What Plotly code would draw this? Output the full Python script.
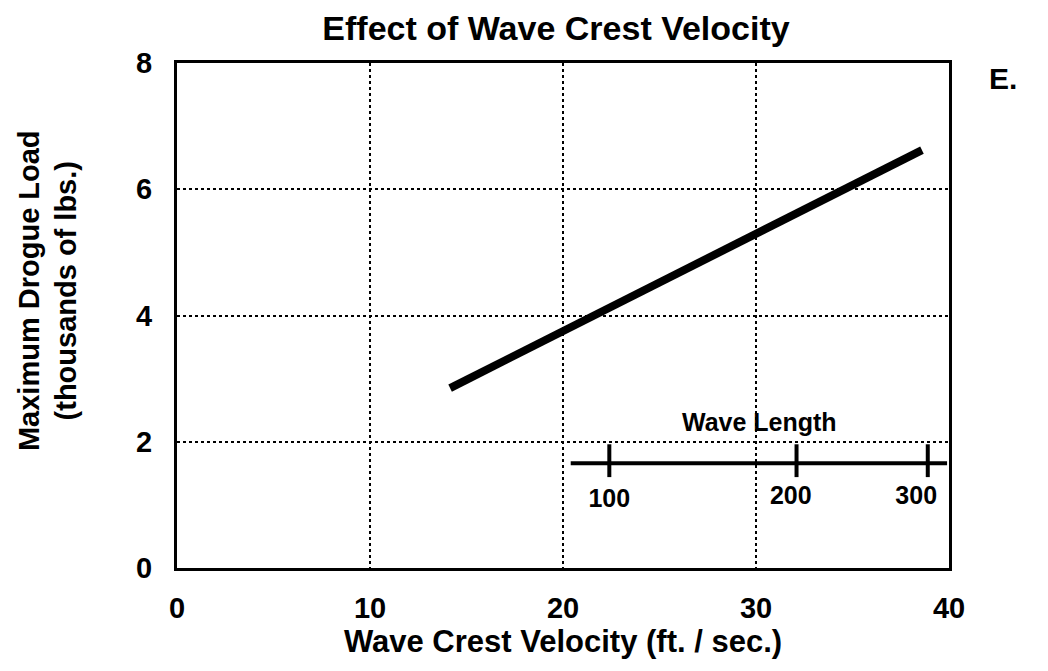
import plotly.graph_objects as go

# main line
velocity = [14.15, 26.0, 38.6]
drogue_load = [2.85, 4.67, 6.62]

# inset "Wave Length" scale: tick values and where they sit on the velocity axis
wave_lengths = [100, 200, 300]
wave_length_pos = [22.4, 32.1, 38.9]
wave_label_pos = [22.4, 31.8, 38.3]
wave_label_y = [1.07, 1.12, 1.12]
wave_scale_start = 20.4
wave_scale_end = 39.9
wave_scale_y = 1.66

x_ticks = [0, 10, 20, 30, 40]
y_ticks = [0, 2, 4, 6, 8]

FONT = "Liberation Sans, Arial, Helvetica, sans-serif"

fig = go.Figure()

fig.add_trace(go.Scatter(
    x=velocity, y=drogue_load, mode="lines",
    line=dict(color="black", width=8),
    hoverinfo="skip", showlegend=False,
))

# horizontal bar of the wave length scale
fig.add_trace(go.Scatter(
    x=[wave_scale_start, wave_scale_end], y=[wave_scale_y, wave_scale_y],
    mode="lines", line=dict(color="black", width=4),
    hoverinfo="skip", showlegend=False,
))

# its tick marks
tick_x, tick_y = [], []
for p in wave_length_pos:
    tick_x += [p, p, None]
    tick_y += [wave_scale_y + 0.3, wave_scale_y - 0.22, None]
fig.add_trace(go.Scatter(
    x=tick_x, y=tick_y, mode="lines", line=dict(color="black", width=4),
    hoverinfo="skip", showlegend=False,
))

# tick labels of the inset scale
fig.add_trace(go.Scatter(
    x=wave_label_pos, y=wave_label_y,
    mode="text", text=[str(w) for w in wave_lengths],
    textposition="middle center",
    textfont=dict(family=FONT, size=25, color="black", weight="bold"),
    hoverinfo="skip", showlegend=False,
))

fig.add_annotation(x=30.2, y=2.31, xref="x", yref="y", text="Wave Length",
                   showarrow=False,
                   font=dict(family=FONT, size=25, color="black", weight="bold"))

# "E." sits outside the plot area, to the right
fig.add_annotation(x=(1003 - 177) / 772, y=(568 - 78) / 505, xref="paper", yref="paper",
                   xanchor="center", yanchor="middle", text="E.", showarrow=False,
                   font=dict(family=FONT, size=30, color="black", weight="bold"))

fig.add_annotation(
    x=-0.168, y=0.549, xref="paper", yref="paper", xanchor="center", yanchor="middle",
    text="Maximum Drogue Load<br>(thousands of lbs.)", textangle=-90,
    showarrow=False, font=dict(family=FONT, size=29, color="black", weight="bold"),
)

axis_common = dict(
    showline=True, linecolor="black", linewidth=3, mirror=True,
    showgrid=True, gridcolor="black", gridwidth=1.5, griddash="dot",
    zeroline=False, ticks="",
    tickfont=dict(family=FONT, size=29, color="black", weight="bold"),
)

fig.update_xaxes(range=[0, 40], tickvals=x_ticks, ticklabelstandoff=12,
                 title=dict(text="Wave Crest Velocity (ft. / sec.)",
                            font=dict(family=FONT, size=31, color="black", weight="bold"),
                            standoff=3),
                 **axis_common)
fig.update_yaxes(range=[0, 8], tickvals=y_ticks, ticklabelstandoff=16, **axis_common)

fig.update_layout(
    width=1048, height=671,
    margin=dict(l=177, r=99, t=63, b=103),
    paper_bgcolor="white", plot_bgcolor="white",
    title=dict(text="Effect of Wave Crest Velocity", x=556 / 1048, xanchor="center",
               y=1 - 28 / 671, yanchor="middle",
               font=dict(family=FONT, size=34, color="black", weight="bold")),
)

fig.write_html("out.html", config={"displayModeBar": False},
               post_script="document.body.style.margin='0';")
